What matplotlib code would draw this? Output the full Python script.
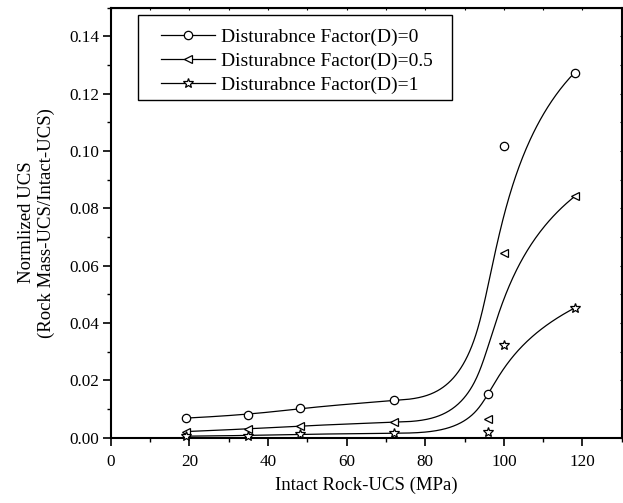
import numpy as np
import matplotlib
matplotlib.use('Agg')
import matplotlib.pyplot as plt
from matplotlib.patches import Rectangle

plt.rcParams['font.family'] = ['Liberation Serif', 'DejaVu Serif']

# intact rock UCS (MPa)
ucs = [19, 35, 48, 72, 96, 100, 118]

# normalized UCS for the three disturbance factors
d0 = [0.0068, 0.0079, 0.0103, 0.0130, 0.0152, 0.1017, 0.1273]
d05 = [0.0021, 0.0030, 0.0041, 0.0054, 0.0064, 0.0643, 0.0841]
d1 = [0.0005, 0.0007, 0.0012, 0.0015, 0.0019, 0.0322, 0.0452]

labels = ['Disturabnce Factor(D)=0', 'Disturabnce Factor(D)=0.5', 'Disturabnce Factor(D)=1']
markers = ['o', '<', '*']


def bspline(px, py, k=3, n=500):
    # clamped B-spline with the data as control points (like Origin's "B-Spline" connect)
    px = np.asarray(px, float)
    py = np.asarray(py, float)
    m = len(px)
    knots = np.concatenate([np.zeros(k), np.linspace(0, 1, m - k + 1), np.ones(k)])
    t = np.linspace(0, 1, n)
    t[-1] = 1 - 1e-12
    N = np.zeros((n, len(knots) - 1))
    for i in range(len(knots) - 1):
        N[:, i] = (t >= knots[i]) & (t < knots[i + 1])
    for d in range(1, k + 1):
        Nn = np.zeros((n, len(knots) - 1 - d))
        for i in range(len(knots) - 1 - d):
            a = knots[i + d] - knots[i]
            b = knots[i + d + 1] - knots[i + 1]
            left = (t - knots[i]) / a * N[:, i] if a > 0 else 0
            right = (knots[i + d + 1] - t) / b * N[:, i + 1] if b > 0 else 0
            Nn[:, i] = left + right
        N = Nn
    return N @ px, N @ py


fig = plt.figure(figsize=(6.23, 5.03), dpi=100)
ax = fig.add_axes([0.178, 0.130, 0.82, 0.855])

handles = []
for ys, mk, lab in zip([d0, d05, d1], markers, labels):
    bx, by = bspline(ucs, ys)
    ax.plot(bx, by, color='black', lw=0.9)
    ms = 7.5 if mk == '*' else 6
    ax.plot(ucs, ys, linestyle='none', marker=mk, ms=ms, mfc='white', mec='black', mew=0.9, clip_on=False, zorder=3)
    h, = ax.plot([], [], color='black', lw=0.9, marker=mk, ms=ms, mfc='white', mec='black', mew=0.9, label=lab)
    handles.append(h)

ax.set_xlim(0, 130)
ax.set_ylim(0, 0.15)
ax.set_xticks(np.arange(0, 121, 20))
ax.set_xticks(np.arange(10, 131, 10), minor=True)
ax.set_yticks(np.arange(0, 0.141, 0.02))
ax.set_yticks(np.arange(0.01, 0.151, 0.02), minor=True)
ax.yaxis.set_major_formatter(matplotlib.ticker.FormatStrFormatter('%.2f'))

for s in ax.spines.values():
    s.set_linewidth(1.5)
ax.tick_params(which='major', direction='out', length=5.5, width=1.2, labelsize=12.3)
ax.tick_params(which='minor', direction='out', length=3, width=1.0)
ax.tick_params(axis='x', which='major', pad=6)
ax.tick_params(axis='y', which='major', pad=3)

# tiny inward ticks on top and right
sec_x = ax.secondary_xaxis('top')
sec_x.set_xticks(np.arange(0, 131, 10))
sec_x.tick_params(direction='in', length=1.5, width=0.8, labeltop=False)
sec_y = ax.secondary_yaxis('right')
sec_y.set_yticks(np.arange(0, 0.151, 0.01))
sec_y.tick_params(direction='in', length=1.5, width=0.8, labelright=False)

ax.set_xlabel('Intact Rock-UCS (MPa)', fontsize=13.5, labelpad=5)
ax.set_ylabel('Normlized UCS\n(Rock Mass-UCS/Intact-UCS)', fontsize=13.5, labelpad=10)

leg = ax.legend(handles=handles, loc='upper left', bbox_to_anchor=(0.072, 0.984), frameon=False,
                fontsize=14, handlelength=2.75, handletextpad=0.3, labelspacing=0.32, borderpad=0.2)
ax.add_patch(Rectangle((0.053, 0.785), 0.615, 0.197, transform=ax.transAxes, fill=False,
                       edgecolor='black', lw=1.0, zorder=4))

fig.savefig('out.png', dpi=100)
